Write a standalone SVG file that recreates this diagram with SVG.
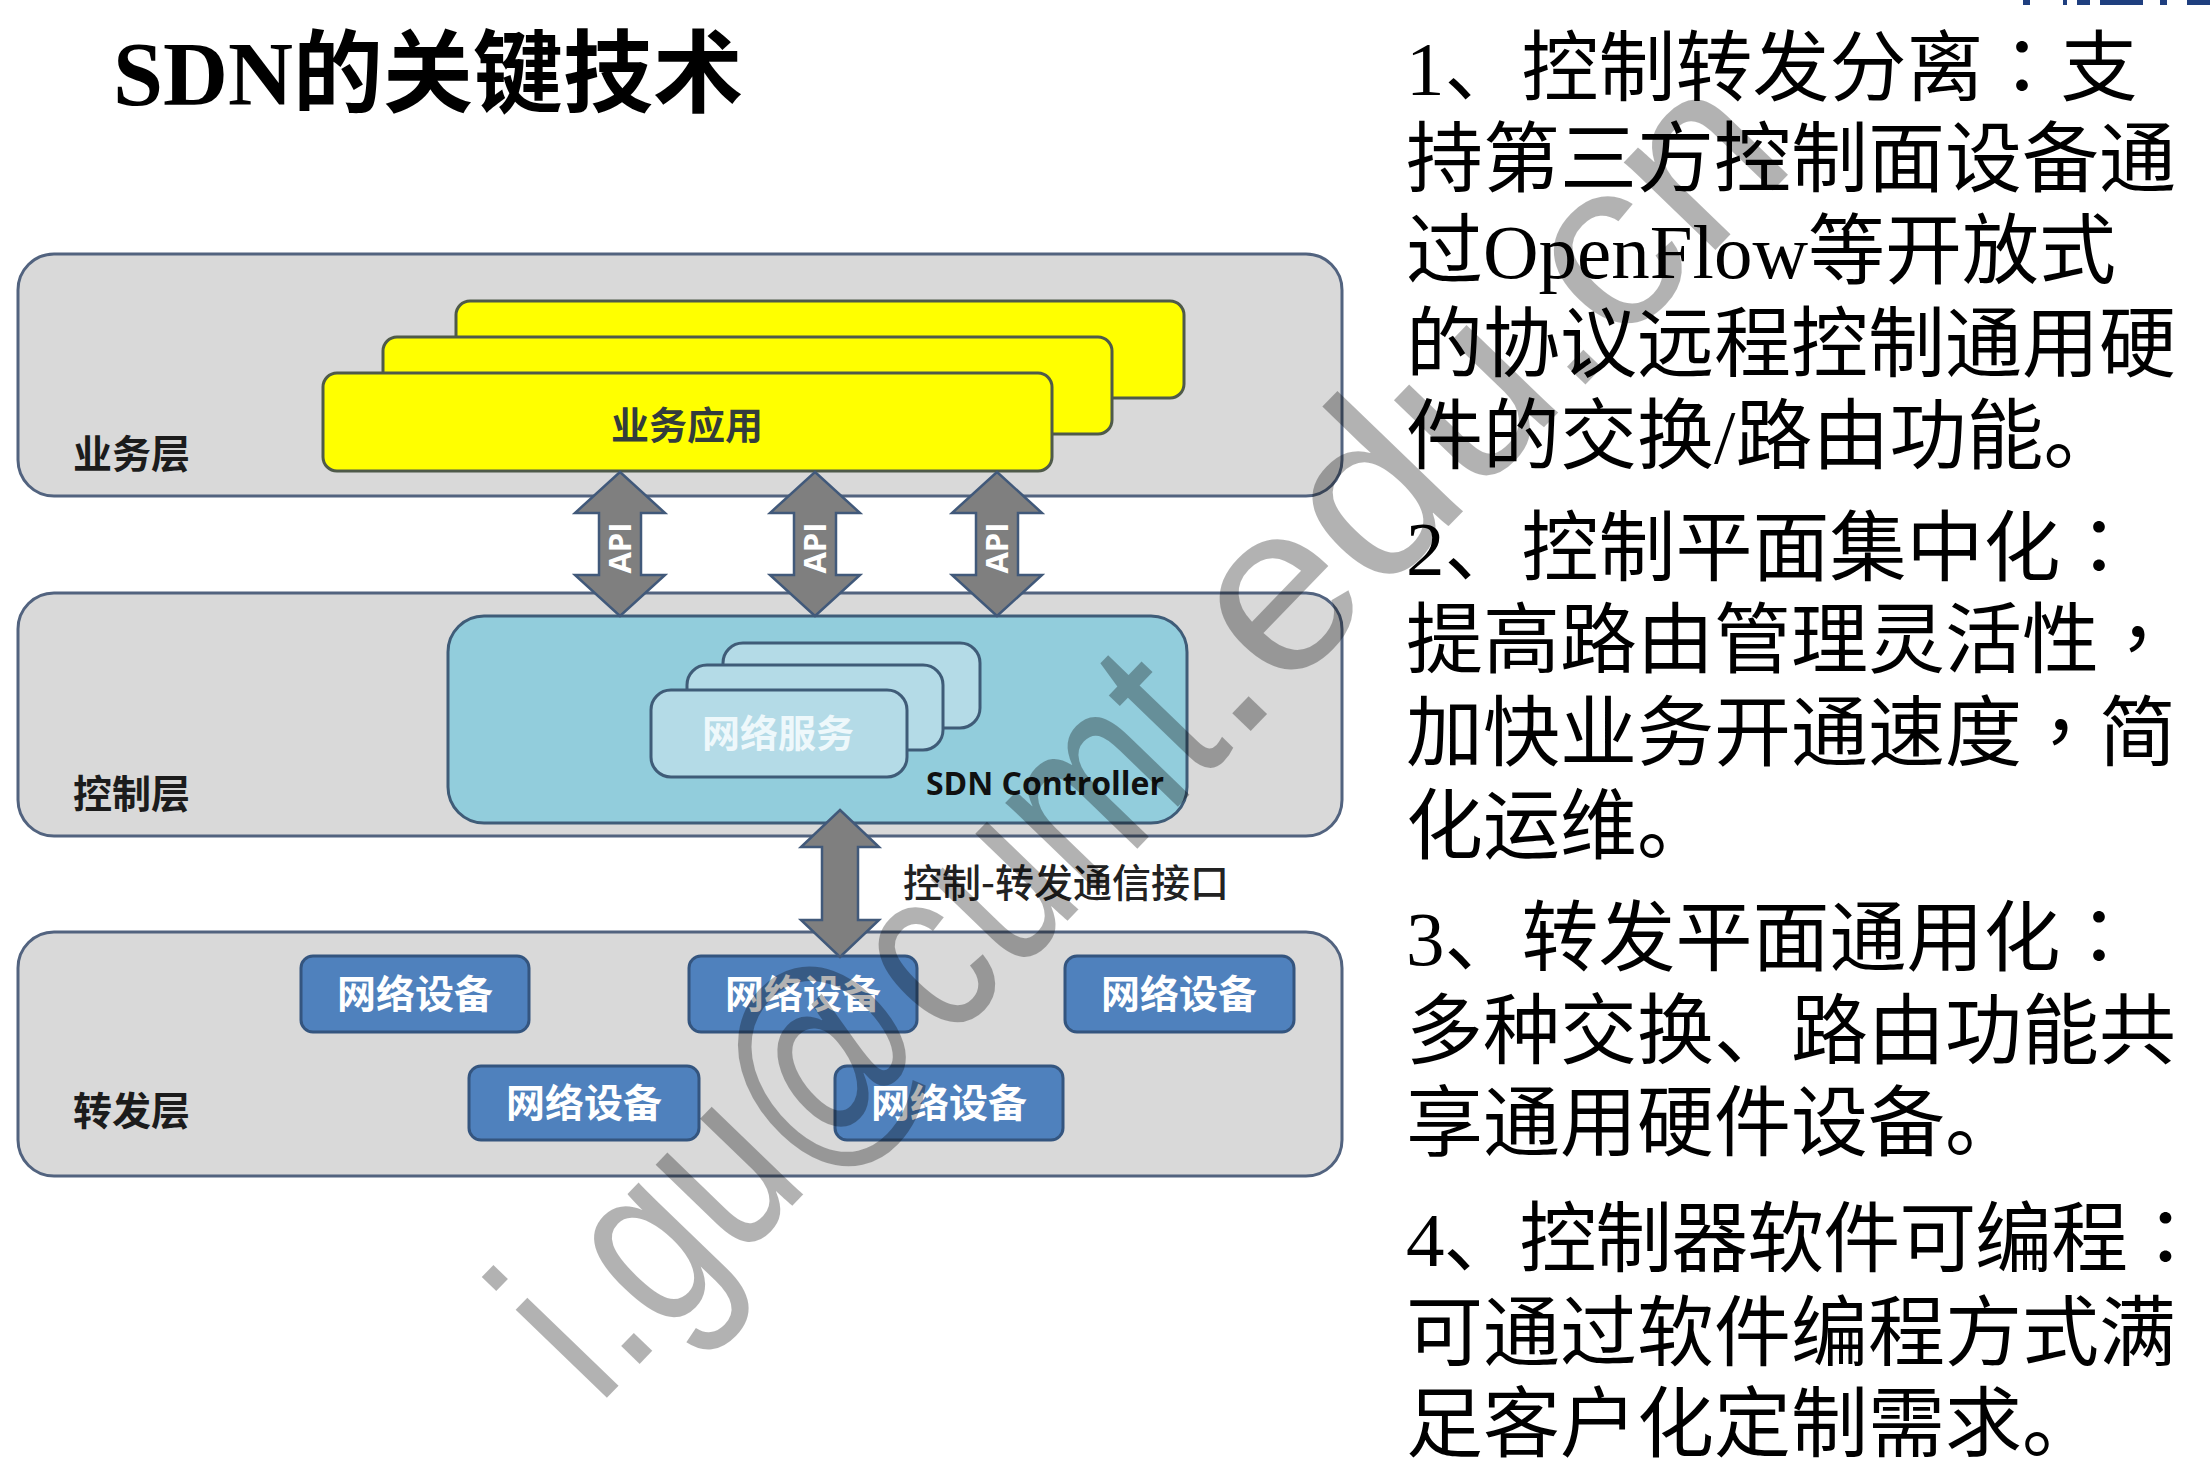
<svg xmlns="http://www.w3.org/2000/svg" width="2210" height="1484" viewBox="0 0 2210 1484">
  <style>
    .layer { fill: #d9d9d9; stroke: #52637f; stroke-width: 3; }
    .app { fill: #ffff00; stroke: #4f5a4a; stroke-width: 3; }
    .ctrl { fill: #92cddc; stroke: #3f5c78; stroke-width: 3; }
    .svc { fill: #b4dbe7; stroke: #3f5c78; stroke-width: 3; }
    .dev { fill: #4f81bd; stroke: #34557f; stroke-width: 3; }
    .arrow { fill: #7f7f7f; stroke: #41597a; stroke-width: 2.5; stroke-linejoin: miter; }
    .cjk { font-family: "Noto Sans CJK SC", "Noto Sans", sans-serif; }
    .lbl { font-family: "Noto Sans CJK SC", sans-serif; font-weight: 700; font-size: 39px; fill: #1c1c1c; }
    .devtxt { font-family: "Noto Sans CJK SC", sans-serif; font-weight: 700; font-size: 39px; fill: #ffffff; text-anchor: middle; }
    .api { font-family: "Open Sans", "Liberation Sans", sans-serif; font-weight: 700; font-size: 31px; fill: #ffffff; text-anchor: middle; }
    .body { font-family: "Liberation Serif", "Noto Sans CJK SC", serif; font-size: 77px; fill: #000000; }
    .tc { font-family: "Noto Sans CJK TC", sans-serif; }
    .mark { font-family: "Liberation Sans", Arial, sans-serif; font-size: 240px; fill: #000000; fill-opacity: 0.3; }
  </style>

  <rect width="2210" height="1484" fill="#ffffff"/>

  <!-- clipped banner fragment along the top edge -->
  <g id="banner-edge" fill="#1f3f7f">
    <rect x="2023" y="0" width="7" height="5"/>
    <rect x="2063" y="0" width="4" height="5"/>
    <rect x="2077" y="0" width="13" height="5"/>
    <rect x="2100" y="0" width="43" height="5"/>
    <rect x="2160" y="0" width="7" height="5"/>
    <rect x="2187" y="0" width="23" height="5"/>
  </g>

  <!-- title -->
  <text id="title" x="113" y="105" font-family="'Liberation Serif', 'Noto Sans CJK SC', serif" font-weight="700" font-size="90" fill="#000000">SDN的关键技术</text>

  <!-- layers -->
  <g id="layer-business">
    <rect class="layer" x="18" y="254" width="1324" height="242" rx="36"/>
    <text class="lbl" x="73" y="468">业务层</text>
  </g>
  <g id="layer-control">
    <rect class="layer" x="18" y="593" width="1324" height="243" rx="36"/>
    <text class="lbl" x="73" y="808">控制层</text>
  </g>
  <g id="layer-forwarding">
    <rect class="layer" x="18" y="932" width="1324" height="244" rx="36"/>
    <text class="lbl" x="73" y="1125">转发层</text>
  </g>

  <!-- business applications (stacked) -->
  <g id="apps">
    <rect class="app" x="456" y="301" width="728" height="97" rx="14"/>
    <rect class="app" x="383" y="337" width="729" height="97" rx="14"/>
    <rect class="app" x="323" y="373" width="729" height="98" rx="14"/>
    <text class="cjk" x="687" y="439" text-anchor="middle" font-weight="700" font-size="38" fill="#333c3c">业务应用</text>
  </g>

  <!-- SDN controller -->
  <g id="controller">
    <rect class="ctrl" x="448" y="616" width="739" height="207" rx="36"/>
    <text x="1045" y="795" text-anchor="middle" font-family="'Open Sans', 'Liberation Sans', sans-serif" font-weight="700" font-size="32" fill="#111111">SDN Controller</text>
  </g>

  <!-- network services (stacked) -->
  <g id="services">
    <rect class="svc" x="723" y="643" width="257" height="85" rx="20"/>
    <rect class="svc" x="687" y="665" width="256" height="85" rx="20"/>
    <rect class="svc" x="651" y="690" width="256" height="87" rx="20"/>
    <text class="cjk" x="778" y="747" text-anchor="middle" font-weight="700" font-size="38" fill="#eef8fb">网络服务</text>
  </g>

  <!-- network devices -->
  <g id="device-1"><rect class="dev" x="301" y="956" width="228" height="76" rx="12"/><text class="devtxt" x="415" y="1008">网络设备</text></g>
  <g id="device-2"><rect class="dev" x="689" y="956" width="228" height="76" rx="12"/><text class="devtxt" x="803" y="1008">网络设备</text></g>
  <g id="device-3"><rect class="dev" x="1065" y="956" width="229" height="76" rx="12"/><text class="devtxt" x="1179" y="1008">网络设备</text></g>
  <g id="device-4"><rect class="dev" x="469" y="1066" width="230" height="74" rx="12"/><text class="devtxt" x="584" y="1117">网络设备</text></g>
  <g id="device-5"><rect class="dev" x="835" y="1066" width="228" height="74" rx="12"/><text class="devtxt" x="949" y="1117">网络设备</text></g>

  <!-- connectors: double-headed block arrows -->
  <g id="connectors">
    <path class="arrow" d="M620,472 L665,513 L641,513 L641,575 L665,575 L620,616 L575,575 L599,575 L599,513 L575,513 Z"/>
    <text class="api" transform="translate(631,548) rotate(-90)">API</text>
    <path class="arrow" d="M815,472 L860,513 L836,513 L836,575 L860,575 L815,616 L770,575 L794,575 L794,513 L770,513 Z"/>
    <text class="api" transform="translate(826,548) rotate(-90)">API</text>
    <path class="arrow" d="M997,472 L1042,513 L1018,513 L1018,575 L1042,575 L997,616 L952,575 L976,575 L976,513 L952,513 Z"/>
    <text class="api" transform="translate(1008,548) rotate(-90)">API</text>
    <path class="arrow" d="M840,810 L879,847 L858,847 L858,920 L879,920 L840,957 L801,920 L822,920 L822,847 L801,847 Z"/>
    <text class="cjk" x="903" y="897" font-size="39" font-weight="500" fill="#222222">控制-转发通信接口</text>
  </g>

  <!-- key points -->
  <g id="notes" class="body">
    <text x="1406" y="95">1、控制转发分离<tspan class="tc">：</tspan>支</text>
    <text x="1406" y="186">持第三方控制面设备通</text>
    <text x="1406" y="278">过OpenFlow等开放式</text>
    <text x="1406" y="371">的协议远程控制通用硬</text>
    <text x="1406" y="463">件的交换/路由功能。</text>

    <text x="1406" y="575">2、控制平面集中化<tspan class="tc">：</tspan></text>
    <text x="1406" y="667">提高路由管理灵活性<tspan class="tc">，</tspan></text>
    <text x="1406" y="760">加快业务开通速度<tspan class="tc">，</tspan>简</text>
    <text x="1406" y="853">化运维。</text>

    <text x="1406" y="965">3、转发平面通用化<tspan class="tc">：</tspan></text>
    <text x="1406" y="1058">多种交换、路由功能共</text>
    <text x="1406" y="1150">享通用硬件设备。</text>

    <text x="1406" y="1266" textLength="798" lengthAdjust="spacing">4、控制器软件可编程<tspan class="tc">：</tspan></text>
    <text x="1406" y="1360">可通过软件编程方式满</text>
    <text x="1406" y="1451">足客户化定制需求。</text>
  </g>

  <!-- diagonal watermark -->
  <g id="watermark" class="mark" transform="translate(598,1407) rotate(-46)">
    <text x="0" y="0" textLength="917" lengthAdjust="spacingAndGlyphs">i.gu@cumt</text>
    <text x="917" y="0" textLength="812" lengthAdjust="spacingAndGlyphs">.edu.cn</text>
  </g>
</svg>
